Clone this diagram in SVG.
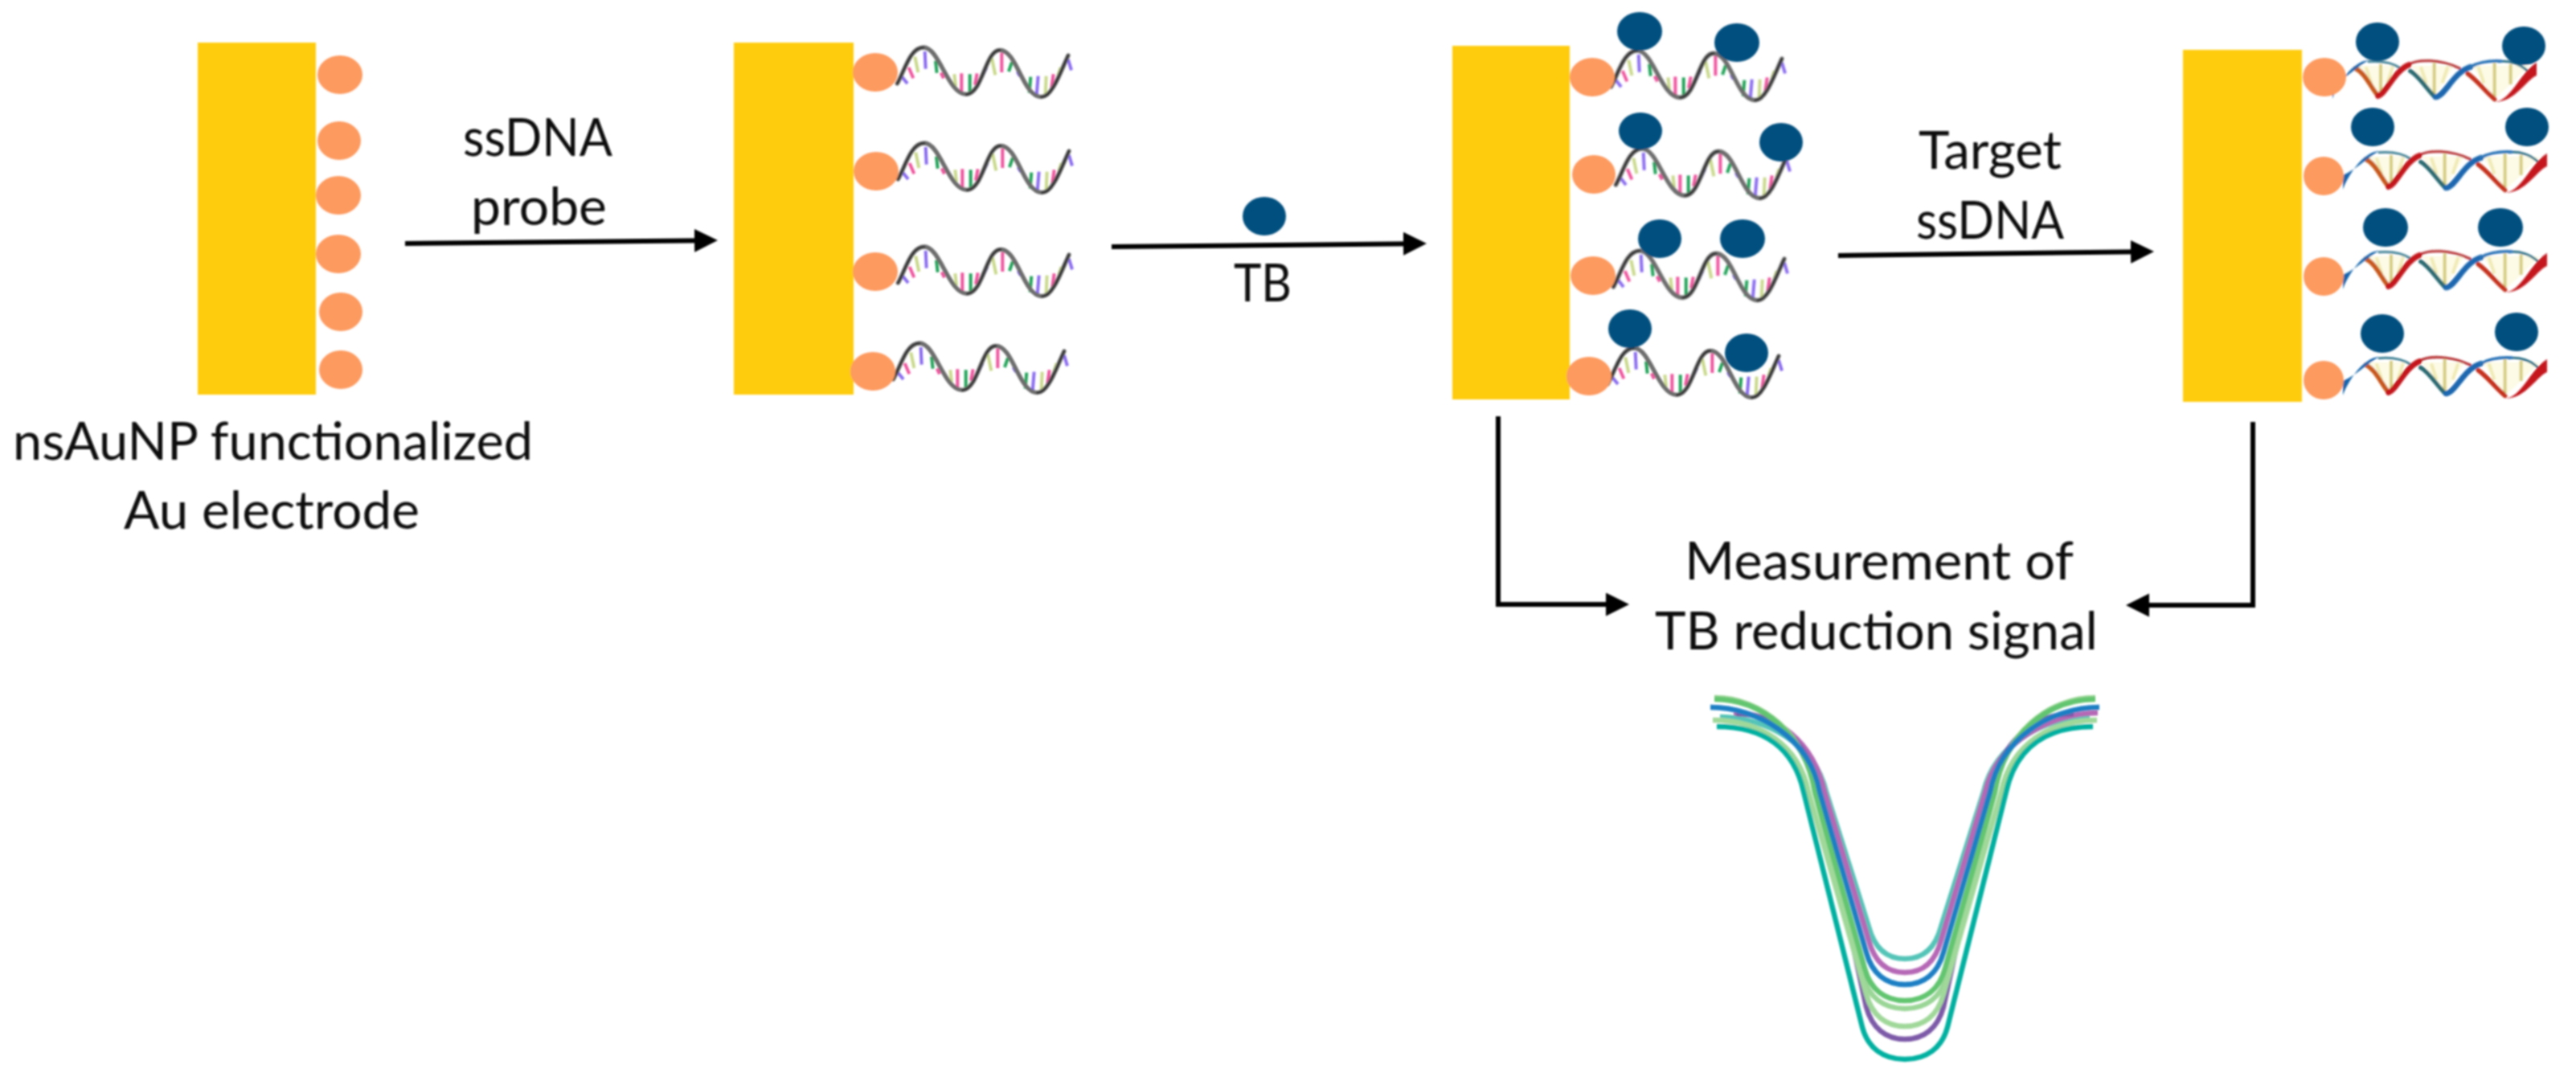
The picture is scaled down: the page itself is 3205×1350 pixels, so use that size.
<svg xmlns="http://www.w3.org/2000/svg" width="3205" height="1350" viewBox="0 0 3205 1350">
<style>
.au{fill:#ffcc0a}
.np{fill:#fd9a5e}
.tb{fill:#00507f}
.t{font-family:"Lato","Open Sans","Liberation Sans",sans-serif;font-size:65px;fill:#0c0c0c}
.c{fill:none;stroke:#000;stroke-width:6;stroke-linecap:butt;stroke-linejoin:miter}
.v{fill:none;stroke-width:6.5;stroke-linecap:butt}
.ss{fill:none;stroke-linecap:round}
.r{fill:none;stroke-width:12;stroke-linecap:butt}
.d{fill:none;stroke-linecap:round}
</style>
<defs>
<filter id="soft" x="-2%" y="-2%" width="104%" height="104%"><feGaussianBlur stdDeviation="0.9"/></filter>
<marker id="ah" markerUnits="userSpaceOnUse" markerWidth="30" markerHeight="30" refX="10" refY="14.5" orient="auto"><path d="M0,0L29,14.5L0,29Z" fill="#000"/></marker>
<g id="ss" transform="scale(.3333)">
<path class="r" stroke="#8a6cf0" d="M100,5L120,30M185,-90L188,-25M530,-15L540,2M608,2L602,75M720,-60L732,-20"/>
<path class="r" stroke="#f0559f" d="M125,-30L142,10M245,-10L255,10M322,-8L322,65M380,-8L372,35M472,-85L472,-12M665,-5L658,45"/>
<path class="r" stroke="#c9d98c" d="M148,-70L160,-12M295,-5L300,40M435,-65L448,-2M638,2L635,70M692,-30L682,0"/>
<path class="r" stroke="#22a45a" d="M225,-55L230,-10M353,-5L353,65M510,-50L498,-15M580,5L575,65"/>
<path class="r" stroke="#3a2ab8" d="M415,-30L398,5"/>
<path class="ss" stroke="#6d6d6d" stroke-width="16" d="M82,30C110,-20 130,-105 180,-105C240,-105 270,70 340,70C400,70 410,-95 465,-95C530,-95 550,80 620,80C660,80 690,-10 720,-75"/>
<path class="ss" stroke="#2f2f2f" stroke-width="8" d="M82,30C110,-20 130,-105 180,-105M340,70C400,70 410,-95 465,-95M620,80C660,80 690,-10 720,-75"/>
</g>
<g id="ds" transform="scale(.3333)">
<path fill="#fdfbe6" d="M85,-55L235,-55L168,55ZM295,-55L455,-55L380,60ZM520,-55L735,-55L660,20L605,70Z"/>
<path class="r" stroke="#f0eab4" d="M125,-50L145,10M225,-50L205,10M330,-50L350,10M430,-50L410,10M545,-50L565,10"/>
<path class="r" stroke="#d6cc80" d="M180,-60L180,45M380,-65L380,50M605,-65L605,60M665,-60L665,15"/>
<path class="d" stroke="#c8591c" stroke-width="17" d="M85,-45C120,-30 140,20 168,55"/>
<path class="d" stroke="#2a6a72" stroke-width="16" d="M290,-35C320,-20 350,30 380,60"/>
<path class="d" stroke="#c6331f" stroke-width="17" d="M505,-25C540,0 570,40 605,70"/>
<path class="d" stroke="#3f8296" stroke-width="9" d="M135,-70C180,-74 225,-65 255,-45"/>
<path class="d" stroke="#b93a3c" stroke-width="10" d="M285,-60C320,-80 400,-80 475,-45"/>
<path class="d" stroke="#2a6f86" stroke-width="9" d="M620,-70C660,-76 700,-60 725,-38"/>
<path fill="#1565ad" d="M0,68C20,15 75,-72 135,-75C100,-58 50,-5 0,15Z"/>
<path class="d" stroke="#c4161c" stroke-width="21" d="M170,58C200,50 230,-35 285,-58"/>
<path class="d" stroke="#1a68b0" stroke-width="21" d="M385,62C420,60 450,-30 515,-50"/>
<path class="d" stroke="#2b74b8" stroke-width="11" d="M515,-50C550,-70 590,-74 630,-72"/>
<path fill="#c4161c" d="M600,80C665,84 695,-25 762,-66L762,-18C720,0 680,86 600,80Z"/>
</g>
</defs>
<rect width="3205" height="1350" fill="#fff"/>
<g filter="url(#soft)">

<g id="panel-1">
<rect class="au" x="246" y="53" width="147" height="438"/>
<ellipse class="np" cx="423" cy="93" rx="28" ry="24"/>
<ellipse class="np" cx="422" cy="175" rx="27" ry="24"/>
<ellipse class="np" cx="421" cy="243" rx="28" ry="24"/>
<ellipse class="np" cx="421" cy="316" rx="28" ry="24"/>
<ellipse class="np" cx="424" cy="388" rx="27" ry="24"/>
<ellipse class="np" cx="424" cy="460" rx="27" ry="24"/>
</g>

<g id="panel-2">
<rect class="au" x="913" y="53" width="149" height="438"/>
<use href="#ss" transform="translate(1089,94)"/>
<use href="#ss" transform="translate(1090,213)"/>
<use href="#ss" transform="translate(1090,342)"/>
<use href="#ss" transform="translate(1084,462)"/>
<ellipse class="np" cx="1089" cy="90" rx="28" ry="24"/>
<ellipse class="np" cx="1090" cy="213" rx="28" ry="24"/>
<ellipse class="np" cx="1089" cy="338" rx="28" ry="24"/>
<ellipse class="np" cx="1086" cy="462" rx="28" ry="24"/>
</g>

<g id="panel-3">
<rect class="au" x="1807" y="57" width="146" height="440"/>
<use href="#ss" transform="translate(1977,98)"/>
<use href="#ss" transform="translate(1983,220)"/>
<use href="#ss" transform="translate(1980,347)"/>
<use href="#ss" transform="translate(1973,468)"/>
<ellipse class="np" cx="1981" cy="96" rx="28" ry="24"/>
<ellipse class="np" cx="1983" cy="217" rx="27" ry="24"/>
<ellipse class="np" cx="1982" cy="343" rx="28" ry="24"/>
<ellipse class="np" cx="1977" cy="468" rx="28" ry="24"/>
<ellipse class="tb" cx="2040" cy="39" rx="28" ry="24"/>
<ellipse class="tb" cx="2161" cy="53" rx="28" ry="24"/>
<ellipse class="tb" cx="2041" cy="163" rx="27" ry="23"/>
<ellipse class="tb" cx="2216" cy="177" rx="27" ry="24"/>
<ellipse class="tb" cx="2065" cy="297" rx="27" ry="24"/>
<ellipse class="tb" cx="2168" cy="297" rx="28" ry="24"/>
<ellipse class="tb" cx="2028" cy="409" rx="27" ry="24"/>
<ellipse class="tb" cx="2173" cy="439" rx="27" ry="24"/>
</g>

<g id="panel-4">
<rect class="au" x="2716" y="62" width="148" height="438"/>
<use href="#ds" transform="translate(2902,100)"/>
<use href="#ds" transform="translate(2915,213)"/>
<use href="#ds" transform="translate(2915,337)"/>
<use href="#ds" transform="translate(2915,469)"/>
<ellipse class="np" cx="2892" cy="96" rx="27" ry="24"/>
<ellipse class="np" cx="2891" cy="219" rx="25" ry="24"/>
<ellipse class="np" cx="2891" cy="344" rx="25" ry="24"/>
<ellipse class="np" cx="2891" cy="473" rx="25" ry="24"/>
<ellipse class="tb" cx="2958" cy="52" rx="27" ry="24"/>
<ellipse class="tb" cx="3140" cy="57" rx="27" ry="24"/>
<ellipse class="tb" cx="2952" cy="158" rx="27" ry="24"/>
<ellipse class="tb" cx="3144" cy="158" rx="27" ry="24"/>
<ellipse class="tb" cx="2968" cy="283" rx="28" ry="24"/>
<ellipse class="tb" cx="3111" cy="283" rx="28" ry="24"/>
<ellipse class="tb" cx="2964" cy="415" rx="27" ry="24"/>
<ellipse class="tb" cx="3131" cy="413" rx="27" ry="24"/>
</g>

<g id="tb-reagent">
<ellipse class="tb" cx="1573" cy="269" rx="27" ry="24"/>
</g>

<g id="connectors">
<path class="c" marker-end="url(#ah)" d="M504,303L874,299.2"/>
<path class="c" marker-end="url(#ah)" d="M1383,307L1756,303.2"/>
<path class="c" marker-end="url(#ah)" d="M2287,318L2661,313.2"/>
<path class="c" marker-end="url(#ah)" d="M1864,518L1864,752L2008,752"/>
<path class="c" marker-end="url(#ah)" d="M2803,525L2803,753L2664,753"/>
</g>

<g id="labels">
<text class="t" x="16" y="572" textLength="647" lengthAdjust="spacingAndGlyphs">nsAuNP functionalized</text>
<text class="t" x="154" y="658" textLength="368" lengthAdjust="spacingAndGlyphs">Au electrode</text>
<text class="t" x="576" y="194" textLength="186" lengthAdjust="spacingAndGlyphs">ssDNA</text>
<text class="t" x="586" y="280" textLength="169" lengthAdjust="spacingAndGlyphs">probe</text>
<text class="t" x="1535" y="375" textLength="72" lengthAdjust="spacingAndGlyphs">TB</text>
<text class="t" x="2387" y="210" textLength="178" lengthAdjust="spacingAndGlyphs">Target</text>
<text class="t" x="2384" y="297" textLength="184" lengthAdjust="spacingAndGlyphs">ssDNA</text>
<text class="t" x="2096" y="721" textLength="484" lengthAdjust="spacingAndGlyphs">Measurement of</text>
<text class="t" x="2059" y="808" textLength="551" lengthAdjust="spacingAndGlyphs">TB reduction signal</text>
</g>

<g id="signal-curves">
<path class="v" stroke="#55c4b8" d="M2140,892C2195,892 2258,925 2272,985L2325,1153C2332,1179 2347,1193 2370,1193C2393,1193 2408,1179 2415,1153L2468,985C2482,925 2545,892 2600,892"/>
<path class="v" stroke="#b568b5" d="M2157,887C2210,887 2256,922 2270,985L2325,1170C2332,1196 2347,1210 2370,1210C2393,1210 2408,1196 2415,1170L2470,985C2484,922 2555,887 2610,887"/>
<path class="v" stroke="#7d5aa8" d="M2160,888C2210,888 2250,923 2264,985L2322,1253C2329,1279 2346,1293 2370,1293C2394,1293 2411,1279 2418,1253L2476,985C2490,923 2530,888 2580,888"/>
<path class="v" stroke="#9ad696" d="M2133,868C2192,868 2246,913 2258,985L2318,1215C2325,1241 2344,1255 2370,1255C2396,1255 2415,1241 2422,1215L2482,985C2494,913 2548,868 2607,868"/>
<path class="v" stroke="#62c56f" d="M2133,870C2192,870 2246,914 2258,985L2320,1205C2327,1231 2345,1245 2370,1245C2395,1245 2413,1231 2420,1205L2482,985C2494,914 2548,870 2607,870"/>
<path class="v" stroke="#1c7fc4" d="M2128,880C2187,880 2252,919 2264,985L2322,1185C2329,1211 2346,1225 2370,1225C2394,1225 2411,1211 2418,1185L2476,985C2488,919 2553,880 2612,880"/>
<path class="v" stroke="#a0d89a" d="M2131,896C2190,896 2238,927 2250,985L2322,1237C2329,1263 2346,1277 2370,1277C2394,1277 2411,1263 2418,1237L2490,985C2502,927 2550,896 2609,896"/>
<path class="v" stroke="#00b0a0" d="M2136,904C2195,904 2232,931 2244,985L2317,1278C2324,1304 2343,1318 2370,1318C2397,1318 2416,1304 2423,1278L2496,985C2508,931 2545,904 2604,904"/>
</g>
</g>
</svg>
